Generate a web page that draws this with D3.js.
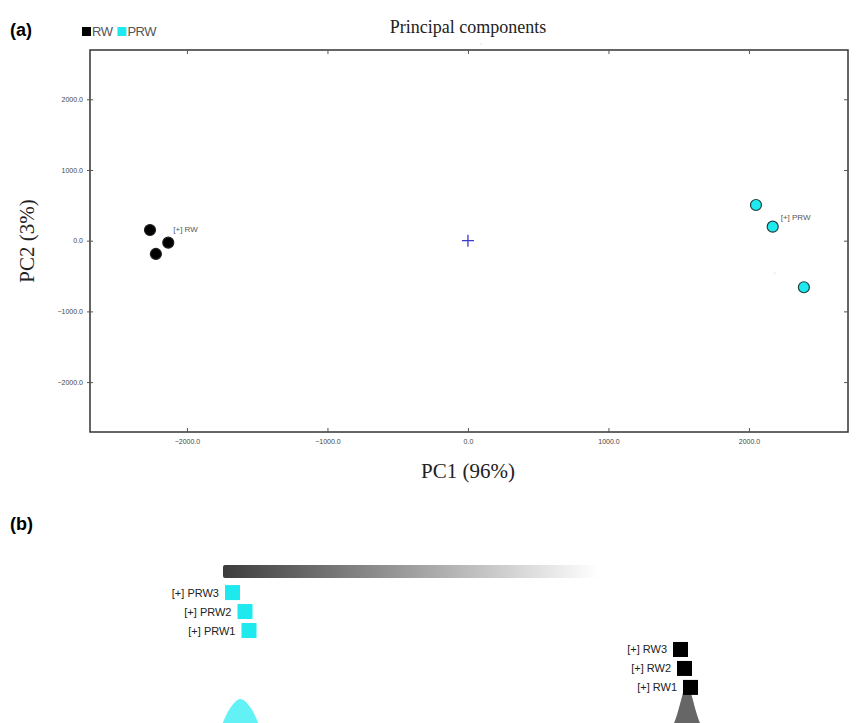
<!DOCTYPE html>
<html>
<head>
<meta charset="utf-8">
<script src="https://cdn.jsdelivr.net/npm/d3@7"></script>
<style>
  body { margin: 0; background: #fff; }
  svg { display: block; }
</style>
</head>
<body>
<svg id="chart" width="868" height="723"></svg>
<script>
// panel (a) data: PCA scores
const groups = ["RW", "PRW"];
const groupColors = ["#000000", "#1de9ee"];
const rwPC1 = [-2263, -2133, -2221];
const rwPC2 = [151, -28, -188];
const prwPC1 = [2050, 2169, 2391];
const prwPC2 = [505, 198, -659];
const tickValues = [-2000, -1000, 0, 1000, 2000];

// panel (b) data: samples ordered along the score axis
const bSamples = ["PRW3", "PRW2", "PRW1", "RW3", "RW2", "RW1"];
const bGroup = ["PRW", "PRW", "PRW", "RW", "RW", "RW"];
const bScore = [0.019, 0.044, 0.052, 0.915, 0.923, 0.935];
// peak profiles (offset from peak center, height)
const peakCenters = [0.035, 0.928];
const peakOffsets = [-0.08, -0.05, -0.038, -0.03, -0.02, -0.01, 0, 0.01, 0.02, 0.03, 0.038, 0.05, 0.08];
const prwPeak = [3, 18, 34, 44, 53, 59, 62, 59, 53, 44, 34, 18, 3];
const rwPeak = [2, 10, 22, 32, 44, 64, 80, 64, 44, 32, 22, 10, 2];

const svg = d3.select("#chart");

// ---------- panel (a) ----------
const x = d3.scaleLinear().domain([-2690, 2705]).range([90, 848]);
const y = d3.scaleLinear().domain([-2706, 2697]).range([432, 50]);

svg.append("text").attr("x", 10).attr("y", 36)
  .style("font", "bold 18px 'Liberation Sans', Arial, sans-serif").text("(a)");

svg.append("text").attr("x", 468).attr("y", 33).attr("text-anchor", "middle")
  .style("font", "18px 'Liberation Serif', 'Times New Roman', serif").style("fill", "#222")
  .text("Principal components");

// legend
const legend = svg.append("g").attr("transform", "translate(82,27)");
let lx = 0;
groups.forEach((g, i) => {
  legend.append("rect").attr("x", lx).attr("y", 0).attr("width", 9).attr("height", 9)
    .attr("fill", groupColors[i]);
  const t = legend.append("text").attr("x", lx + 10).attr("y", 9)
    .style("font", "13px 'Liberation Sans', Arial, sans-serif").style("fill", "#555")
    .style("letter-spacing", "-0.5px").text(g);
  lx += 10 + t.node().getComputedTextLength() + 5;
});

// frame
svg.append("rect").attr("x", 90).attr("y", 50).attr("width", 758).attr("height", 382)
  .attr("fill", "none").attr("stroke", "#333").attr("stroke-width", 1.5);

const tickFont = "7px 'Liberation Sans Narrow', 'Liberation Sans', Arial, sans-serif";
const fmt = d3.format(".1f");

const xAxis = svg.append("g").attr("transform", "translate(0,432)")
  .call(d3.axisBottom(x).tickValues(tickValues).tickSizeInner(-4).tickSizeOuter(0).tickPadding(7).tickFormat(fmt));
const xTop = svg.append("g").attr("transform", "translate(0,50)")
  .call(d3.axisTop(x).tickValues(tickValues).tickSizeInner(-4).tickSizeOuter(0).tickFormat(""));
const yAxis = svg.append("g").attr("transform", "translate(90,0)")
  .call(d3.axisLeft(y).tickValues(tickValues).tickSizeInner(3).tickSizeOuter(0).tickPadding(4).tickFormat(fmt));
const yRight = svg.append("g").attr("transform", "translate(848,0)")
  .call(d3.axisRight(y).tickValues(tickValues).tickSizeInner(-4).tickSizeOuter(0).tickFormat(""));
[xAxis, xTop, yAxis, yRight].forEach(a => {
  a.select(".domain").remove();
  a.selectAll(".tick line").attr("stroke", "#555");
  a.selectAll(".tick text").attr("fill", "#444").style("font", tickFont);
});
yAxis.selectAll(".tick line").attr("x2", 3).attr("x1", -3);

svg.append("text").attr("x", 468).attr("y", 478).attr("text-anchor", "middle")
  .style("font", "21px 'Liberation Serif', 'Times New Roman', serif").style("fill", "#222")
  .text("PC1 (96%)");
svg.append("text").attr("transform", "translate(34,241) rotate(-90)").attr("text-anchor", "middle")
  .style("font", "21px 'Liberation Serif', 'Times New Roman', serif").style("fill", "#222")
  .text("PC2 (3%)");

// centroid marker
const cx = x(0), cy = y(0);
svg.append("path").attr("d", `M${cx - 6},${cy}H${cx + 6}M${cx},${cy - 6}V${cy + 6}`)
  .attr("stroke", "#3a3ad0").attr("stroke-width", 1.3);

// points
const pts = [];
rwPC1.forEach((v, i) => pts.push({ g: 0, x: v, y: rwPC2[i] }));
prwPC1.forEach((v, i) => pts.push({ g: 1, x: v, y: prwPC2[i] }));
svg.append("g").selectAll("circle").data(pts).enter().append("circle")
  .attr("cx", d => x(d.x)).attr("cy", d => y(d.y)).attr("r", 5.5)
  .attr("fill", d => groupColors[d.g])
  .attr("stroke", d => d.g === 0 ? "#222" : "#1f3f40").attr("stroke-width", 1.2);

// group labels next to the clusters
const labelFont = "8px 'Liberation Sans', Arial, sans-serif";
svg.append("text").attr("x", x(d3.max(rwPC1)) + 5).attr("y", y(d3.max(rwPC2)) + 2)
  .style("font", labelFont).style("fill", "#555").text("[+] RW");
svg.append("text").attr("x", x(prwPC1[1]) + 8).attr("y", y(prwPC2[1]) - 7)
  .style("font", labelFont).style("fill", "#555").text("[+] PRW");

// faint specks
svg.append("circle").attr("cx", 481).attr("cy", 44).attr("r", 0.6).attr("fill", "#bbb");
svg.append("circle").attr("cx", 775).attr("cy", 273).attr("r", 0.6).attr("fill", "#bbb");

// ---------- panel (b) ----------
svg.append("text").attr("x", 10).attr("y", 530)
  .style("font", "bold 18px 'Liberation Sans', Arial, sans-serif").text("(b)");

const xb = d3.scaleLinear().domain([0, 1]).range([223, 723]);
const rowY = d3.scaleBand().domain(bSamples).range([585, 695]).paddingInner(0.2);
const hb = d3.scaleLinear().domain([0, 100]).range([760, 660]);

const defs = svg.append("defs");
const grad = defs.append("linearGradient").attr("id", "bar-grad");
grad.append("stop").attr("offset", "0%").attr("stop-color", "#3c3c3c");
grad.append("stop").attr("offset", "55%").attr("stop-color", "#a8a8a8");
grad.append("stop").attr("offset", "90%").attr("stop-color", "#ececec");
grad.append("stop").attr("offset", "100%").attr("stop-color", "#ffffff");
svg.append("rect").attr("x", xb(0)).attr("y", 565).attr("width", xb(0.75) - xb(0)).attr("height", 13)
  .attr("rx", 2).attr("fill", "url(#bar-grad)");

// peaks
const area = d3.area().curve(d3.curveBasis)
  .x(d => xb(d.c + d.o)).y0(hb(0)).y1(d => hb(d.h));
[prwPeak, rwPeak].forEach((p, k) => {
  const data = peakOffsets.map((o, i) => ({ c: peakCenters[k], o: o, h: p[i] }));
  svg.append("path").attr("d", area(data))
    .attr("fill", k === 0 ? "#62f1f5" : "#666");
});

// sample squares and labels
const sq = 15;
const bRows = bSamples.map((s, i) => ({ s: s, g: bGroup[i], v: bScore[i] }));
svg.append("g").selectAll("rect").data(bRows).enter().append("rect")
  .attr("x", d => xb(d.v) - sq / 2).attr("y", d => rowY(d.s) + rowY.bandwidth() / 2 - sq / 2)
  .attr("width", sq).attr("height", sq)
  .attr("fill", d => d.g === "RW" ? "#000" : "#1de9ee");
svg.append("g").selectAll("text").data(bRows).enter().append("text")
  .attr("x", d => xb(d.v) - sq / 2 - 6).attr("y", d => rowY(d.s) + rowY.bandwidth() / 2 + 4)
  .attr("text-anchor", "end")
  .style("font", "11px 'Liberation Sans', Arial, sans-serif").style("fill", "#222")
  .text(d => "[+] " + d.s);
</script>
</body>
</html>
